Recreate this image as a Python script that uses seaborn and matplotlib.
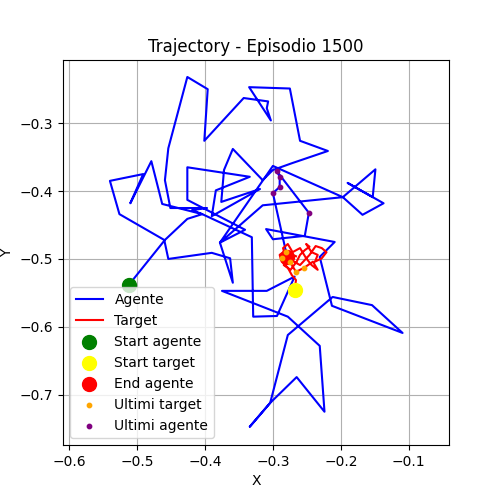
import matplotlib
matplotlib.use("Agg")
import matplotlib.pyplot as plt
import seaborn as sns
import pandas as pd

agent_x = [-0.512, -0.459, -0.426, -0.404, -0.419, -0.397, -0.451, -0.459, -0.454, -0.426,
           -0.396, -0.401, -0.343, -0.307, -0.309, -0.303, -0.335, -0.275, -0.260, -0.219,
           -0.272, -0.300, -0.315, -0.359, -0.372, -0.376, -0.319, -0.390, -0.384, -0.334,
           -0.426, -0.426, -0.341, -0.378, -0.300, -0.197, -0.168, -0.137, -0.190, -0.153,
           -0.149, -0.197, -0.315, -0.378, -0.359, -0.363, -0.390, -0.454, -0.460, -0.526,
           -0.540, -0.491, -0.510, -0.479, -0.463, -0.404, -0.331, -0.329, -0.294, -0.268,
           -0.309, -0.375, -0.278, -0.231, -0.224, -0.265, -0.304, -0.334, -0.304, -0.278,
           -0.212, -0.154, -0.109, -0.213, -0.231, -0.209, -0.310, -0.300, -0.253, -0.247,
           -0.294, -0.290, -0.290, -0.300, -0.279]
agent_y = [-0.538, -0.472, -0.441, -0.434, -0.428, -0.425, -0.425, -0.384, -0.337, -0.232,
           -0.250, -0.326, -0.263, -0.268, -0.278, -0.296, -0.247, -0.249, -0.326, -0.341,
           -0.359, -0.369, -0.384, -0.338, -0.369, -0.416, -0.397, -0.437, -0.399, -0.379,
           -0.365, -0.413, -0.457, -0.476, -0.363, -0.409, -0.435, -0.418, -0.388, -0.409,
           -0.368, -0.409, -0.421, -0.476, -0.535, -0.499, -0.491, -0.500, -0.472, -0.434,
           -0.385, -0.375, -0.418, -0.356, -0.419, -0.434, -0.468, -0.585, -0.584, -0.526,
           -0.547, -0.547, -0.585, -0.628, -0.725, -0.674, -0.712, -0.747, -0.712, -0.612,
           -0.556, -0.568, -0.609, -0.569, -0.497, -0.475, -0.456, -0.471, -0.466, -0.432,
           -0.371, -0.379, -0.394, -0.403, -0.497]

target_x = [-0.268, -0.266, -0.272, -0.278, -0.287, -0.290, -0.281, -0.275, -0.284, -0.274,
            -0.265, -0.260, -0.253, -0.246, -0.251, -0.243, -0.234, -0.238, -0.228, -0.221,
            -0.228, -0.237, -0.246, -0.260, -0.269, -0.282, -0.285, -0.278, -0.271, -0.260,
            -0.251, -0.243, -0.234, -0.241, -0.254, -0.266, -0.275, -0.287, -0.281, -0.266]
target_y = [-0.546, -0.531, -0.524, -0.513, -0.504, -0.494, -0.487, -0.499, -0.509, -0.516,
            -0.504, -0.494, -0.487, -0.482, -0.478, -0.490, -0.494, -0.504, -0.499, -0.490,
            -0.484, -0.481, -0.494, -0.509, -0.504, -0.496, -0.484, -0.478, -0.490, -0.484,
            -0.499, -0.509, -0.516, -0.504, -0.513, -0.519, -0.504, -0.499, -0.490, -0.496]

agent = pd.DataFrame({"x": agent_x, "y": agent_y})
target = pd.DataFrame({"x": target_x, "y": target_y})

fig, ax = plt.subplots(figsize=(5, 5), dpi=100)
sns.lineplot(data=agent, x="x", y="y", sort=False, estimator=None, color="blue", label="Agente", ax=ax)
sns.lineplot(data=target, x="x", y="y", sort=False, estimator=None, color="red", label="Target", ax=ax)
ax.scatter(agent_x[0], agent_y[0], color="green", s=100, label="Start agente", zorder=3)
ax.scatter(target_x[0], target_y[0], color="yellow", s=100, label="Start target", zorder=3)
ax.scatter(agent_x[-1], agent_y[-1], color="red", s=100, label="End agente", zorder=3)
ax.scatter(target_x[-6:-1], target_y[-6:-1], color="orange", s=10, label="Ultimi target", zorder=3)
ax.scatter(agent_x[-6:-1], agent_y[-6:-1], color="purple", s=10, label="Ultimi agente", zorder=3)
ax.set_xlim(-0.609, -0.040)
ax.set_ylim(-0.774, -0.207)
ax.set_aspect("equal")
ax.grid(True)
ax.set_title("Trajectory - Episodio 1500")
ax.set_xlabel("X")
ax.set_ylabel("Y")
ax.legend(loc="lower left")
fig.savefig("out.png")
